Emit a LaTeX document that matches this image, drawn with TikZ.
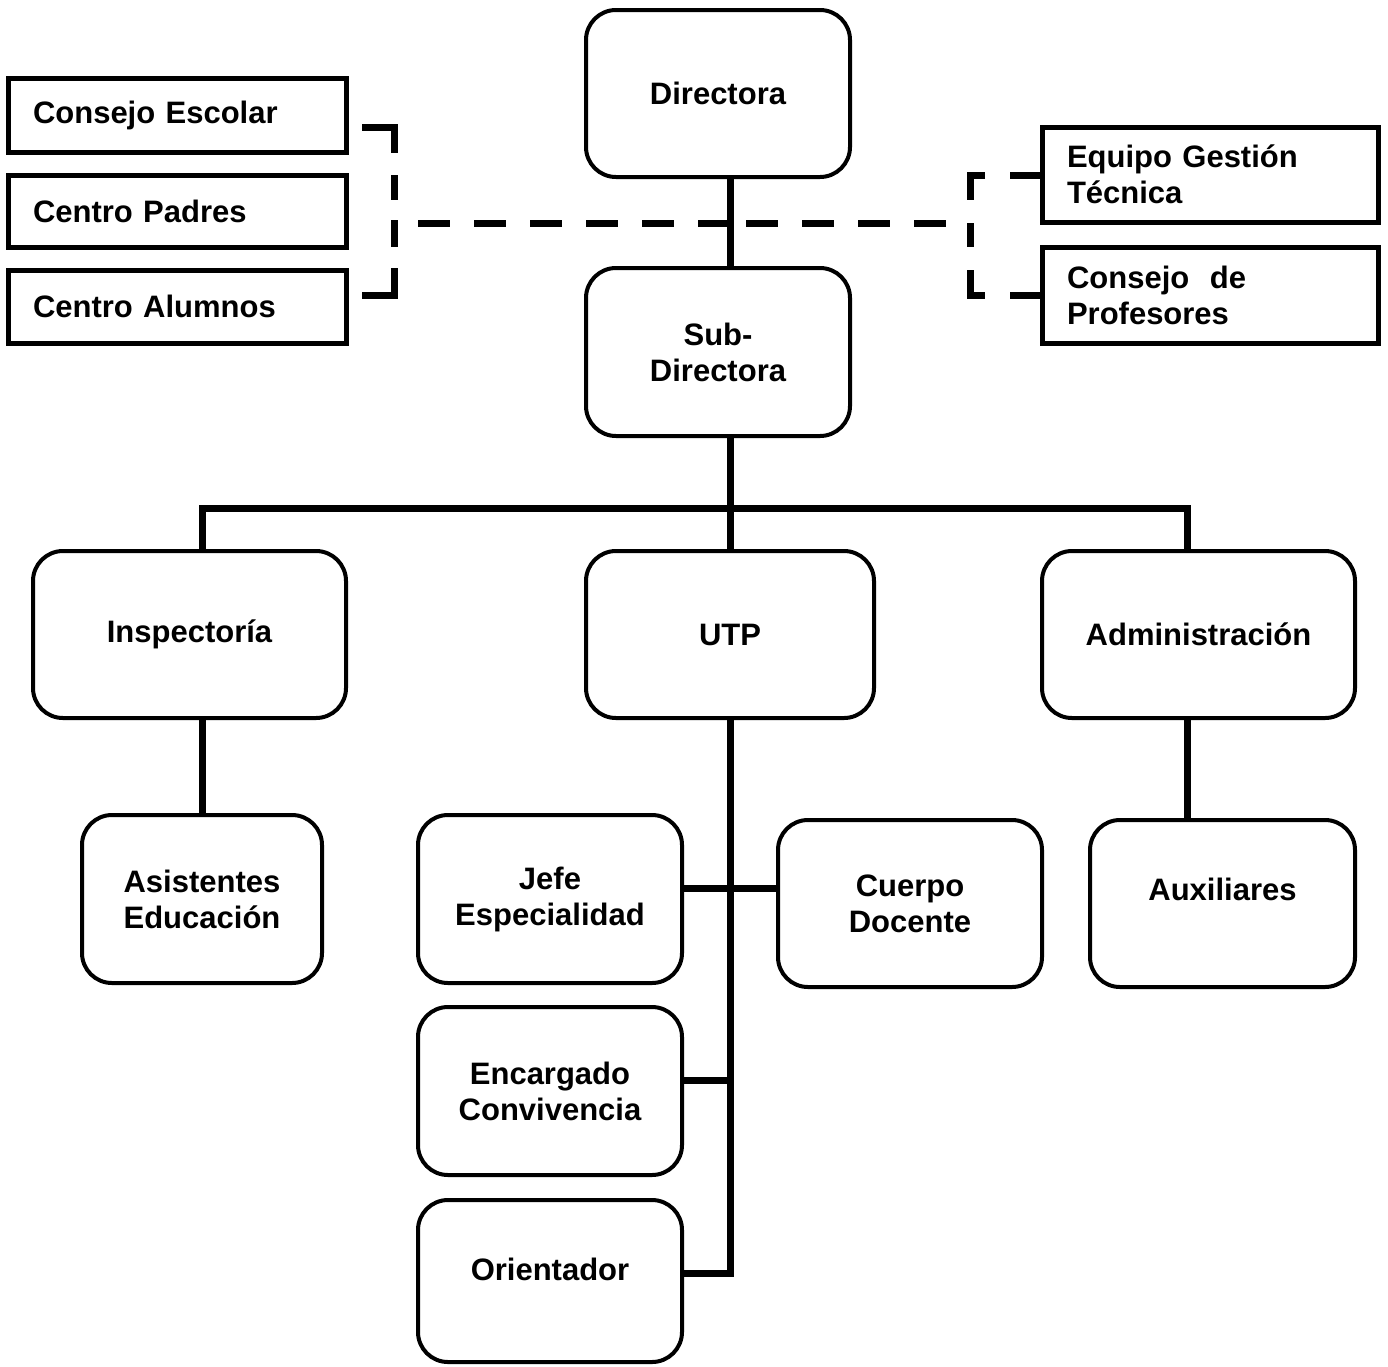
\documentclass[tikz,border=0pt]{standalone}
\usepackage{fontspec}
\setmainfont{Liberation Sans}
\begin{document}
\begin{tikzpicture}[x=1pt,y=-1pt,
  lbl/.style={font=\fontsize{31}{36}\selectfont\bfseries},
  rbox/.style={draw, line width=4pt, rounded corners=30pt, align=center, inner sep=0pt, lbl},
  sbox/.style={draw, line width=5pt, align=left, inner xsep=25pt, inner ysep=0pt, lbl},
  conn/.style={line width=7pt, line join=miter},
  dconn/.style={line width=7pt}]
\useasboundingbox (0,0) rectangle (1388,1366);

% rounded boxes
\node[rbox, minimum width=264pt, minimum height=167pt] (dir) at (718,93.5) {Directora};
\node[rbox, minimum width=264pt, minimum height=168pt] (sub) at (718,352) {Sub-\\Directora};
\node[rbox, minimum width=313pt, minimum height=167pt] (insp) at (189.5,634.5) {Inspectoría};
\node[rbox, minimum width=288pt, minimum height=167pt] (utp) at (730,634.5) {UTP};
\node[rbox, minimum width=313pt, minimum height=167pt] (adm) at (1198.5,634.5) {Administración};
\node[rbox, minimum width=240pt, minimum height=168pt] (asis) at (202,899) {Asistentes\\Educación};
\node[rbox, minimum width=264pt, minimum height=168pt] (jefe) at (550,899) {Jefe\\Especialidad};
\node[rbox, minimum width=264pt, minimum height=167pt] (cuer) at (910,903.5) {Cuerpo\\Docente};
\node[rbox, minimum width=265pt, minimum height=167pt,
      label={[lbl, yshift=14pt]center:Auxiliares}] (aux) at (1222.5,903.5) {};
\node[rbox, minimum width=264pt, minimum height=168pt] (enc) at (550,1091) {Encargado\\Convivencia};
\node[rbox, minimum width=264pt, minimum height=162pt,
      label={[lbl, yshift=12pt]center:Orientador}] (ori) at (550,1281) {};

% square boxes
\node[sbox, text width=288pt, minimum height=74pt] (ce) at (177,115) {Consejo Escolar};
\node[sbox, text width=288pt, minimum height=72pt] (cp) at (177,211) {Centro Padres};
\node[sbox, text width=288pt, minimum height=73pt] (ca) at (177,306.5) {Centro Alumnos};
\node[sbox, text width=286pt, minimum height=95pt] (egt) at (1210,174.5) {Equipo Gestión\\Técnica};
\node[sbox, text width=286pt, minimum height=96pt] (cdp) at (1210,295) {Consejo~ de\\Profesores};

% coordinates for the tree
\coordinate (bl) at (202,508);
\coordinate (bm) at (730,508);
\coordinate (br) at (1187,508);
\coordinate (jc) at (730,888);
\coordinate (ec) at (730,1080);
\coordinate (ot) at (730,1273);

% solid connectors
\draw[conn] (dir.south -| utp.north) -- (sub.north -| utp.north);
\draw[conn] (sub.south -| utp.north) -- (utp.north);
\draw[conn] (bl |- insp.north) -- (bl) -- (br) -- (br |- adm.north);
\draw[conn] (asis.north |- insp.south) -- (asis.north);
\draw[conn] (br |- adm.south) -- (br |- aux.north);
\draw[conn] (utp.south) -- (ot) -- (ot -| ori.east);
\draw[conn] (jc -| jefe.east) -- (jc -| cuer.west);
\draw[conn] (ec -| enc.east) -- (ec);

% dashed connectors
\coordinate (lb1) at (362,127);
\coordinate (lb2) at (394,127);
\coordinate (lb3) at (394,295);
\coordinate (lb4) at (362,295);
\draw[dconn, dash pattern=on 58pt off 22pt on 25pt off 20pt on 27pt off 21pt on 59pt off 0pt]
  (lb1) -- (lb2) -- (lb3) -- (lb4);
\coordinate (rb1) at (1040,175);
\coordinate (rb2) at (970,175);
\coordinate (rb3) at (970,295);
\coordinate (rb4) at (1040,295);
\draw[dconn, dash pattern=on 30pt off 25pt on 40pt off 23pt on 24pt off 23pt on 40pt off 25pt on 30pt off 0pt]
  (rb1) -- (rb2) -- (rb3) -- (rb4);
\coordinate (h1) at (418,223);
\coordinate (h2) at (730,223);
\coordinate (h3) at (746,223);
\coordinate (h4) at (946,223);
\draw[dconn, dash pattern=on 32pt off 24pt] (h1) -- (h2);
\draw[dconn, dash pattern=on 32pt off 24pt] (h3) -- (h4);
\end{tikzpicture}
\end{document}
